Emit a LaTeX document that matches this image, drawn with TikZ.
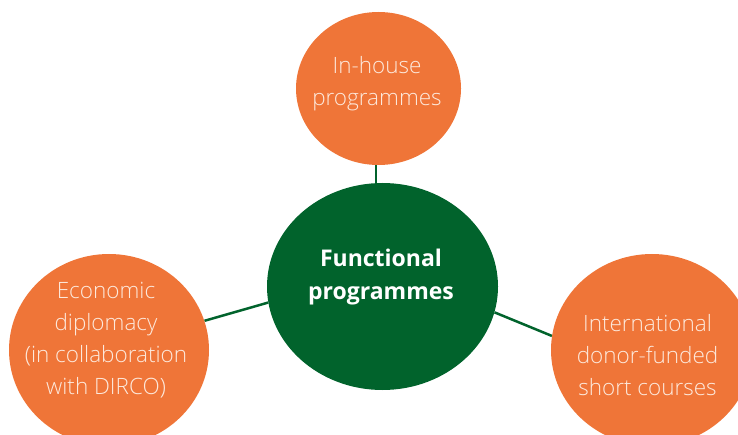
\documentclass[tikz,border=0pt]{standalone}
\usepackage{fontspec}
\setmainfont{Open Sans}
\newfontfamily\lightfont{Open Sans Light}
\usetikzlibrary{shapes.geometric,backgrounds}

\definecolor{blobOrange}{RGB}{239,117,56}
\definecolor{hubGreen}{RGB}{1,99,44}
\definecolor{paleText}{RGB}{253,233,220}

\begin{document}
\begin{tikzpicture}[x=1pt,y=-1pt,
  blob/.style={ellipse, fill=blobOrange, draw=none, inner sep=0pt},
  hub/.style={ellipse, fill=hubGreen, draw=none, inner sep=0pt},
  outertext/.style={text=paleText, align=center, inner sep=0pt,
    font=\lightfont\fontsize{22.5}{32}\selectfont},
  hubtext/.style={text=white, align=center, inner sep=0pt,
    font=\bfseries\fontsize{23}{33}\selectfont},
  link/.style={draw=hubGreen, line width=2.5pt}]
\clip (0,0) rectangle (738,435);
\useasboundingbox (0,0) rectangle (738,435);

% central hub and the three programme areas
\node[hub, minimum width=231pt, minimum height=207pt] (hub) at (382.5,286.5) {};
\node[blob, minimum width=165pt, minimum height=153pt] (inhouse) at (378.5,88.5) {};
\node[blob, minimum width=200pt, minimum height=192pt] (econ) at (109,350) {};
\node[blob, minimum width=202pt, minimum height=192pt] (intl) at (652,350) {};

% labels
\node[hubtext] (hubT) at (381,277) {Functional\\programmes};
\node[outertext] (inhouseT) at (377,84) {In-house\\programmes};
\node[outertext] (econT) at (106,340) {Economic\\diplomacy\\(in collaboration\\with DIRCO)};
\node[outertext] (intlT) at (647.5,355) {International\\donor-funded\\short courses};

% connectors behind the shapes
\begin{scope}[on background layer]
  \draw[link] (inhouse.268) -- (inhouse.268 |- hub.north);
  \draw[link] (econ.17.5) -- (hub.188);
  \draw[link] (hub.347) -- (intl.172.6);
\end{scope}
\end{tikzpicture}
\end{document}
